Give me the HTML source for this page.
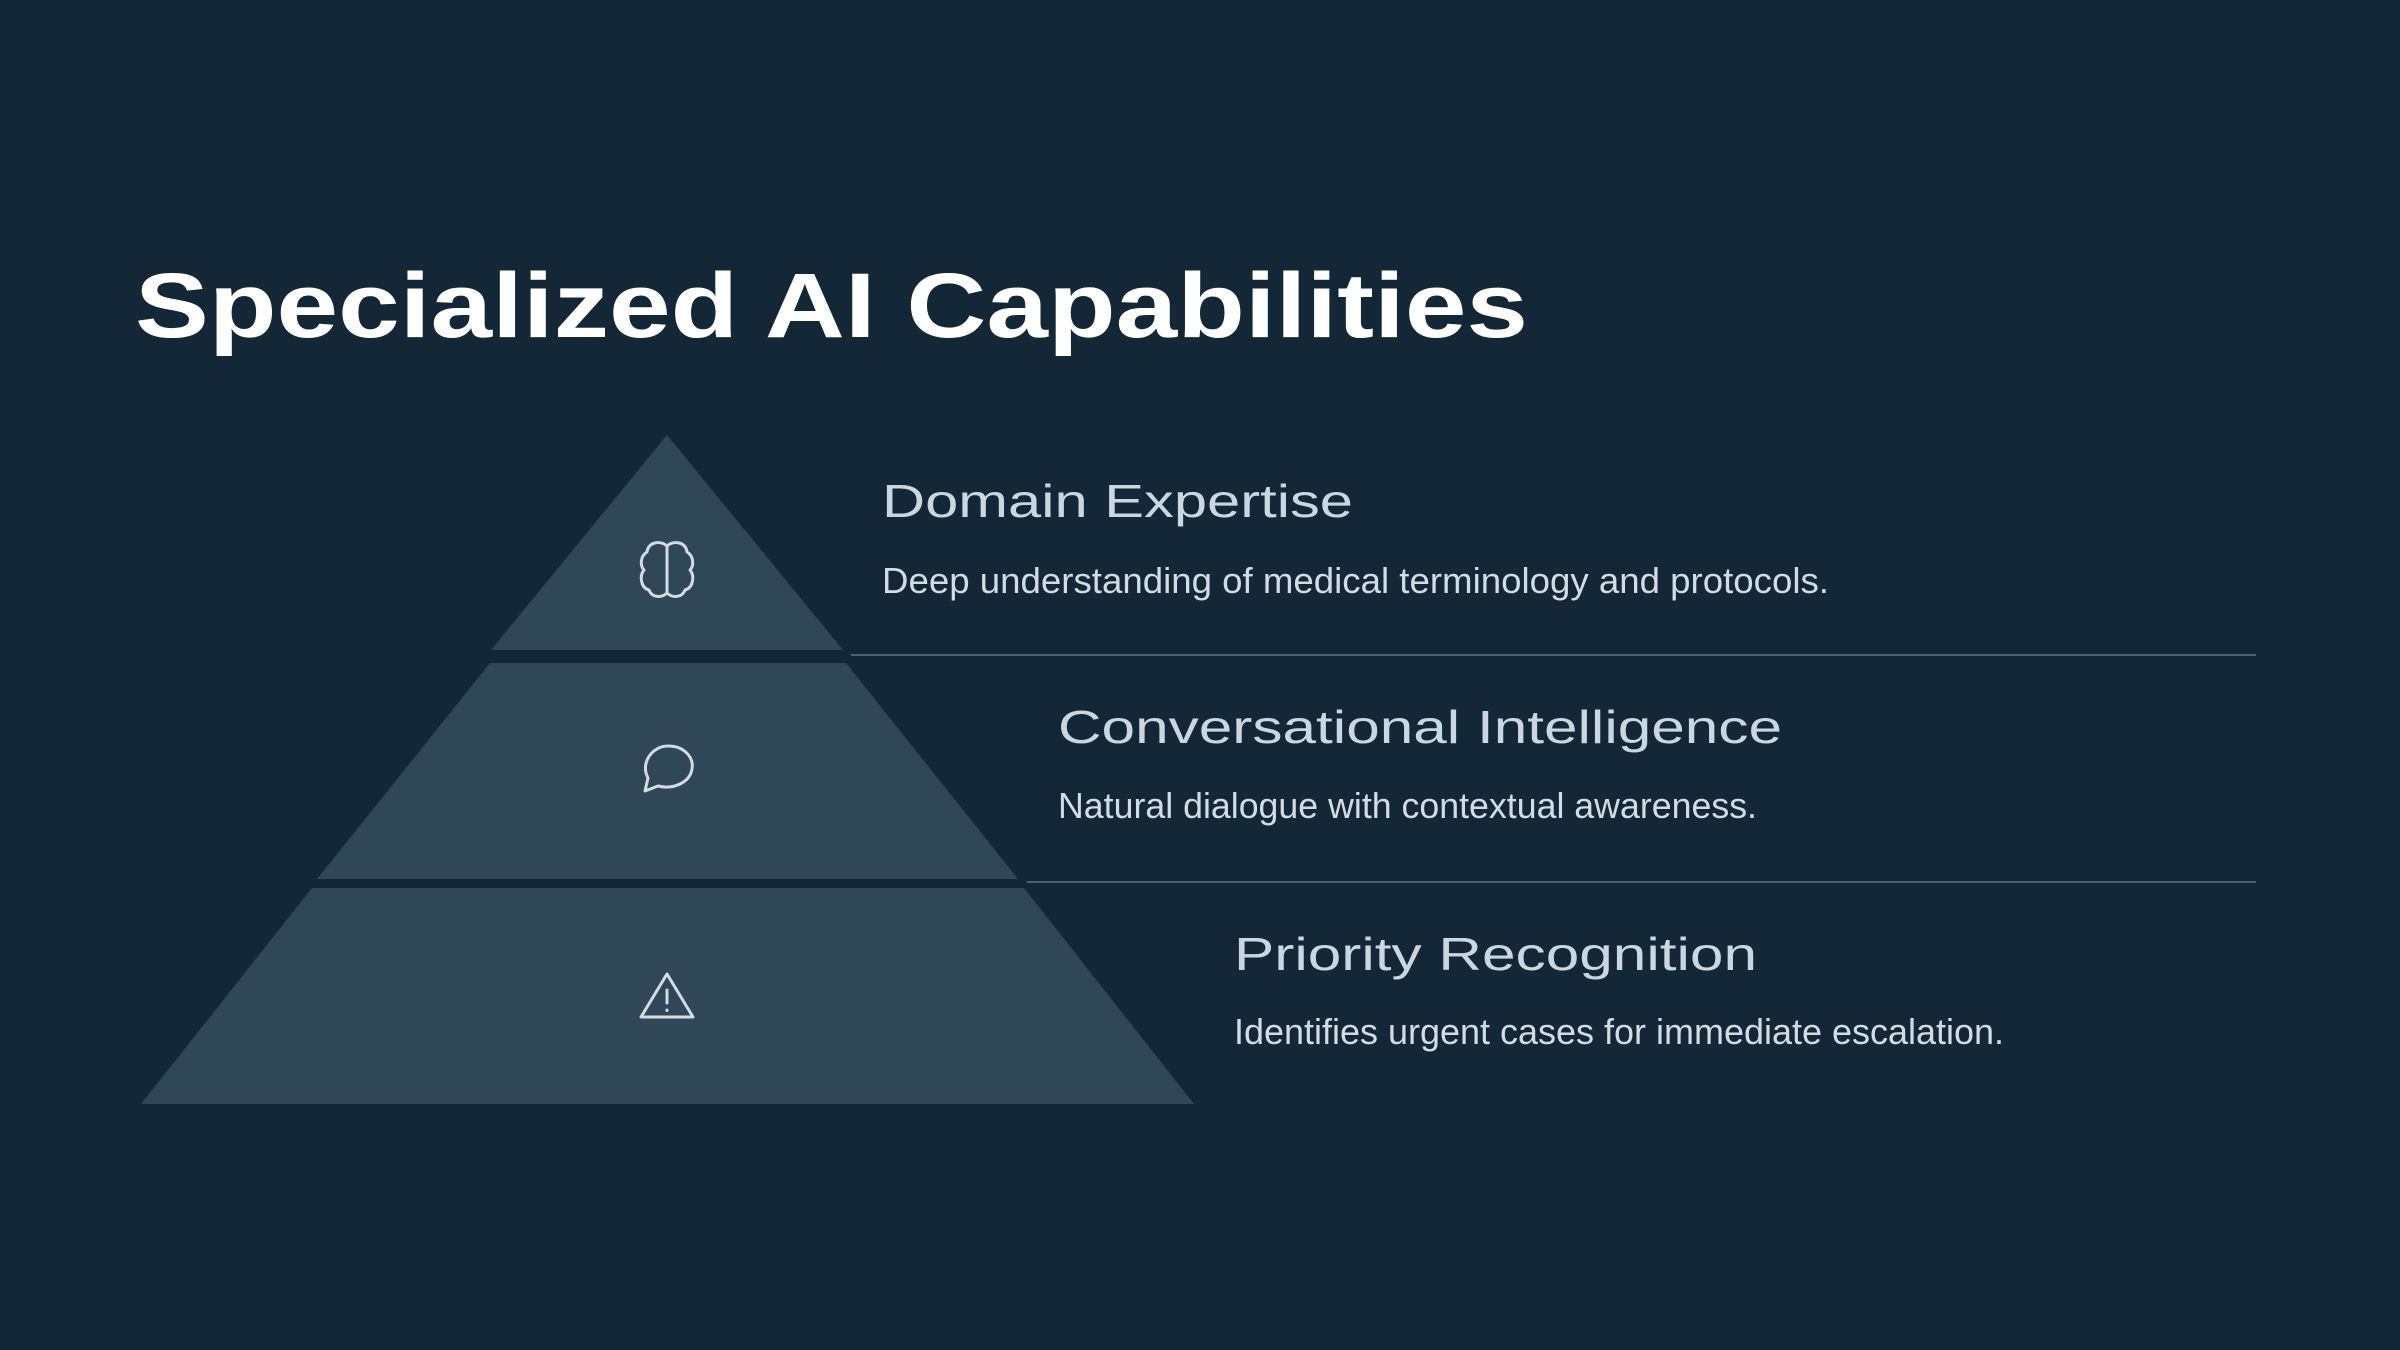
<!DOCTYPE html>
<html><head><meta charset="utf-8"><style>
html,body{margin:0;padding:0;background:#132737;}
svg{display:block}
</style></head><body>
<svg width="2400" height="1350" viewBox="0 0 2400 1350" xmlns="http://www.w3.org/2000/svg">
<rect width="2400" height="1350" fill="#132737"/>
<text x="135" y="337" font-family="Liberation Sans, sans-serif" font-size="92" font-weight="bold" fill="#ffffff" textLength="1393" lengthAdjust="spacingAndGlyphs">Specialized AI Capabilities</text>
<g fill="#2f4756">
<polygon points="667,435 843,650 491,650"/>
<polygon points="490,663 846,663 1018,879 317,879"/>
<polygon points="312,888 1024,888 1194,1104 141,1104"/>
</g>
<g stroke="#4d6170" stroke-width="2">
<line x1="851" y1="655" x2="2256" y2="655"/>
<line x1="1027" y1="882" x2="2256" y2="882"/>
</g>
<g font-family="Liberation Sans, sans-serif" fill="#cbd7e0" font-size="46">
<text x="882" y="517" textLength="471" lengthAdjust="spacingAndGlyphs">Domain Expertise</text>
<text x="1058" y="743" textLength="724" lengthAdjust="spacingAndGlyphs">Conversational Intelligence</text>
<text x="1234" y="970" textLength="523" lengthAdjust="spacingAndGlyphs">Priority Recognition</text>
</g>
<g font-family="Liberation Sans Narrow, Liberation Sans, sans-serif" fill="#d3dce3" font-size="36">
<text x="882" y="593" textLength="947" lengthAdjust="spacingAndGlyphs">Deep understanding of medical terminology and protocols.</text>
<text x="1058" y="818" textLength="699" lengthAdjust="spacingAndGlyphs">Natural dialogue with contextual awareness.</text>
<text x="1234" y="1044" textLength="770" lengthAdjust="spacingAndGlyphs">Identifies urgent cases for immediate escalation.</text>
</g>
<g fill="none" stroke="#d3dce3" stroke-width="3" stroke-linecap="round" stroke-linejoin="round">
<path d="M667,546 C660,540 648,542 647,552 C640,556 640,566 644,570 C639,576 641,588 649,590 C652,598 662,598 667,593 Z"/>
<path d="M667,546 C674,540 686,542 687,552 C694,556 694,566 690,570 C695,576 693,588 685,590 C682,598 672,598 667,593"/>
<path d="M645,791 L648,778 C640,763 652,746 668,746 C684,746 694,757 692,769 C690,782 674,790 658,786 Z"/>
<path d="M667,974 L641,1017 L693,1017 Z"/>
<line x1="667" y1="990" x2="667" y2="1003"/>
<line x1="667" y1="1010" x2="667" y2="1010.5"/>
</g>
</svg>
</body></html>
